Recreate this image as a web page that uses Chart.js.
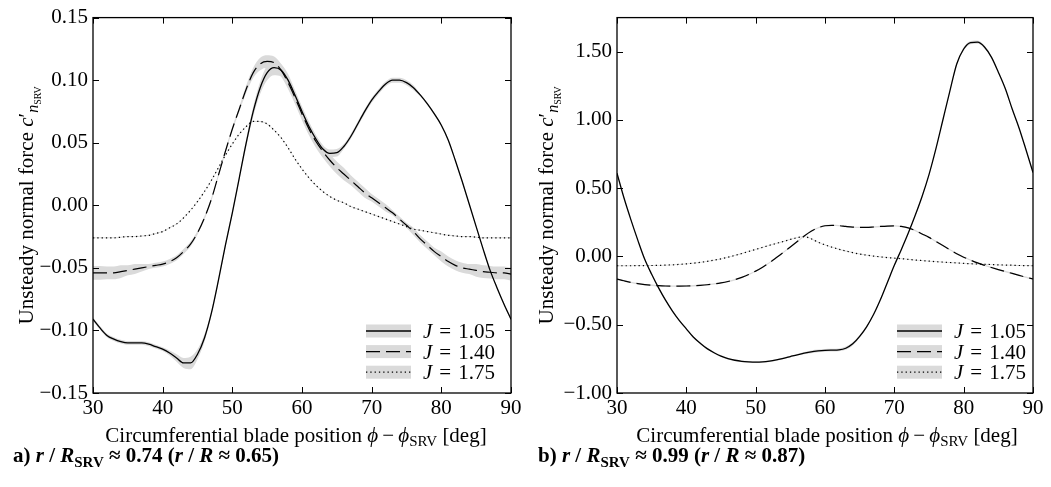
<!DOCTYPE html>
<html><head><meta charset="utf-8">
<script src="https://cdn.jsdelivr.net/npm/chart.js@4/dist/chart.umd.min.js"></script>
<style>
html,body{margin:0;padding:0;background:#fff;overflow:hidden}
#wrap{position:relative;width:1051px;height:487px;background:#fff}
canvas{position:absolute;top:0}
</style></head><body>
<div id="wrap">
<canvas id="cA" width="525" height="487" style="left:0px"></canvas>
<canvas id="cB" width="526" height="487" style="left:525px"></canvas>
</div>
<script>
// ---------- data ----------
const phiDeg = [30,31,32,33,34,35,36,37,38,39,40,41,42,43,44,45,46,47,48,49,50,51,52,53,54,55,56,57,58,59,60,61,62,63,64,65,66,67,68,69,70,71,72,73,74,75,76,77,78,79,80,81,82,83,84,85,86,87,88,89,90];
const xTicks = [30,40,50,60,70,80,90];
const jLabels = ['1.05','1.40','1.75'];

// panel a) r/R_SRV ~ 0.74
const yTicksA = [-0.15,-0.10,-0.05,0.00,0.05,0.10,0.15];
const cnA_105 = [-0.091,-0.098,-0.104,-0.107,-0.109,-0.110,-0.110,-0.110,-0.111,-0.113,-0.115,-0.118,-0.122,-0.126,-0.126,-0.119,-0.106,-0.086,-0.060,-0.032,-0.006,0.022,0.050,0.075,0.094,0.106,0.110,0.108,0.100,0.088,0.075,0.063,0.053,0.045,0.0415,0.042,0.047,0.055,0.065,0.075,0.084,0.091,0.097,0.100,0.100,0.098,0.094,0.088,0.081,0.073,0.064,0.052,0.036,0.019,0.001,-0.017,-0.035,-0.052,-0.066,-0.079,-0.091];
const cnA_140 = [-0.054,-0.054,-0.054,-0.054,-0.053,-0.052,-0.051,-0.050,-0.049,-0.048,-0.047,-0.045,-0.042,-0.037,-0.031,-0.022,-0.010,0.005,0.024,0.043,0.061,0.077,0.093,0.106,0.113,0.115,0.114,0.108,0.098,0.086,0.073,0.061,0.051,0.043,0.036,0.030,0.025,0.020,0.015,0.010,0.006,0.002,-0.002,-0.006,-0.011,-0.016,-0.021,-0.027,-0.032,-0.037,-0.041,-0.045,-0.048,-0.050,-0.051,-0.052,-0.053,-0.0535,-0.054,-0.054,-0.055];
const cnA_175 = [-0.026,-0.026,-0.026,-0.026,-0.0255,-0.025,-0.025,-0.0245,-0.024,-0.0225,-0.021,-0.018,-0.015,-0.010,-0.004,0.003,0.011,0.020,0.030,0.040,0.049,0.057,0.063,0.067,0.067,0.065,0.060,0.054,0.046,0.037,0.029,0.022,0.016,0.011,0.007,0.004,0.002,-0.001,-0.003,-0.005,-0.007,-0.009,-0.011,-0.013,-0.015,-0.017,-0.019,-0.020,-0.021,-0.022,-0.023,-0.024,-0.0245,-0.025,-0.025,-0.0255,-0.026,-0.026,-0.026,-0.026,-0.026];
const bandA_105 = [0.0015,0.0015,0.0015,0.0015,0.0015,0.0015,0.0015,0.0015,0.0015,0.0015,0.0015,0.002,0.003,0.004,0.005,0.004,0.003,0.002,0.002,0.002,0.002,0.002,0.003,0.004,0.005,0.006,0.006,0.005,0.005,0.004,0.004,0.004,0.003,0.003,0.003,0.003,0.002,0.002,0.002,0.002,0.002,0.002,0.002,0.002,0.002,0.002,0.002,0.001,0.001,0.001,0.001,0.001,0.001,0.001,0.001,0.001,0.001,0.001,0.001,0.001,0.001];
const bandA_140 = [0.0055,0.0055,0.005,0.005,0.005,0.004,0.004,0.003,0.002,0.002,0.002,0.002,0.002,0.002,0.002,0.0015,0.0015,0.0015,0.0015,0.0015,0.0015,0.002,0.003,0.004,0.005,0.005,0.005,0.005,0.005,0.005,0.005,0.005,0.005,0.005,0.005,0.005,0.005,0.004,0.004,0.004,0.003,0.003,0.003,0.002,0.002,0.002,0.003,0.003,0.003,0.003,0.004,0.004,0.004,0.004,0.004,0.005,0.005,0.005,0.005,0.005,0.005];
const bandA_175 = [0.0004,0.0004,0.0004,0.0004,0.0004,0.0004,0.0004,0.0004,0.0004,0.0004,0.0004,0.0004,0.0004,0.0004,0.0004,0.0004,0.0004,0.0004,0.0004,0.0004,0.0004,0.0004,0.0004,0.0004,0.0004,0.0004,0.0004,0.0004,0.0004,0.0004,0.0004,0.0004,0.0004,0.0004,0.0004,0.0004,0.0004,0.0004,0.0004,0.0004,0.0004,0.0004,0.0004,0.0004,0.0004,0.0004,0.0004,0.0004,0.0004,0.0004,0.0004,0.0004,0.0004,0.0004,0.0004,0.0004,0.0004,0.0004,0.0004,0.0004,0.0004];

// panel b) r/R_SRV ~ 0.99
const yTicksB = [-1.00,-0.50,0.00,0.50,1.00,1.50];
const cnB_105 = [0.61,0.43,0.27,0.12,-0.02,-0.13,-0.23,-0.32,-0.40,-0.47,-0.53,-0.59,-0.635,-0.675,-0.705,-0.73,-0.748,-0.76,-0.768,-0.772,-0.774,-0.772,-0.766,-0.757,-0.746,-0.733,-0.72,-0.708,-0.698,-0.692,-0.688,-0.686,-0.684,-0.672,-0.64,-0.585,-0.515,-0.425,-0.315,-0.19,-0.065,0.05,0.17,0.30,0.44,0.60,0.79,1.00,1.21,1.41,1.52,1.567,1.57,1.535,1.46,1.35,1.23,1.08,0.94,0.78,0.615];
const cnB_140 = [-0.165,-0.178,-0.19,-0.199,-0.206,-0.211,-0.214,-0.216,-0.217,-0.217,-0.216,-0.214,-0.211,-0.207,-0.201,-0.193,-0.183,-0.17,-0.153,-0.132,-0.107,-0.078,-0.045,-0.008,0.03,0.07,0.11,0.15,0.185,0.21,0.225,0.228,0.226,0.22,0.215,0.213,0.213,0.216,0.22,0.223,0.224,0.22,0.21,0.19,0.165,0.14,0.11,0.08,0.05,0.02,-0.005,-0.027,-0.047,-0.065,-0.081,-0.096,-0.11,-0.124,-0.138,-0.152,-0.165];
const cnB_175 = [-0.068,-0.068,-0.068,-0.067,-0.067,-0.066,-0.065,-0.063,-0.061,-0.058,-0.054,-0.049,-0.043,-0.036,-0.027,-0.017,-0.005,0.008,0.022,0.037,0.052,0.067,0.082,0.096,0.11,0.125,0.138,0.145,0.13,0.105,0.085,0.068,0.053,0.04,0.028,0.018,0.01,0.003,-0.003,-0.008,-0.012,-0.016,-0.021,-0.026,-0.03,-0.034,-0.038,-0.041,-0.044,-0.047,-0.05,-0.053,-0.055,-0.057,-0.059,-0.061,-0.063,-0.064,-0.066,-0.067,-0.068];
const bandB_105 = [0.006,0.006,0.006,0.006,0.006,0.006,0.006,0.006,0.006,0.006,0.006,0.006,0.006,0.006,0.006,0.006,0.006,0.006,0.006,0.006,0.006,0.006,0.006,0.006,0.006,0.006,0.006,0.008,0.01,0.01,0.01,0.01,0.01,0.012,0.012,0.01,0.008,0.006,0.006,0.006,0.006,0.006,0.006,0.006,0.006,0.006,0.006,0.006,0.008,0.01,0.012,0.012,0.012,0.01,0.008,0.006,0.006,0.006,0.006,0.006,0.006];
const bandB_140 = [0.005,0.005,0.005,0.005,0.005,0.005,0.005,0.005,0.005,0.005,0.005,0.005,0.005,0.005,0.005,0.005,0.005,0.005,0.005,0.005,0.005,0.005,0.005,0.005,0.005,0.005,0.005,0.005,0.005,0.005,0.005,0.005,0.005,0.005,0.005,0.005,0.005,0.005,0.005,0.005,0.005,0.005,0.005,0.005,0.005,0.005,0.005,0.005,0.005,0.005,0.005,0.005,0.005,0.005,0.005,0.005,0.005,0.005,0.005,0.005,0.005];
const bandB_175 = [0.003,0.003,0.003,0.003,0.003,0.003,0.003,0.003,0.003,0.003,0.003,0.003,0.003,0.003,0.003,0.003,0.003,0.003,0.003,0.003,0.003,0.003,0.003,0.003,0.003,0.003,0.003,0.003,0.003,0.003,0.003,0.003,0.003,0.003,0.003,0.003,0.003,0.003,0.003,0.003,0.003,0.003,0.003,0.003,0.003,0.003,0.003,0.003,0.003,0.003,0.003,0.003,0.003,0.003,0.003,0.003,0.003,0.003,0.003,0.003,0.003];

// ---------- styling ----------
const SERIF = '"Liberation Serif","Times New Roman",serif';
const F = (s, st) => `${st ? st + ' ' : ''}${s}px ${SERIF}`;
const BAND = 'rgb(218,218,218)';
const FS = 21;
const lineStyles = [
  {dash: [], width: 1.3},
  {dash: [14, 6], width: 1.2},
  {dash: [1.3, 3], width: 1.2}
];
const fmt = v => (Math.abs(v) < 1e-9 ? 0 : v).toFixed(2).replace('-', '\u2212');

function drawRich(ctx, segs, x, y) {
  let cx = x;
  for (const s of segs) {
    ctx.font = s.f;
    ctx.fillText(s.t, cx, y + (s.dy || 0));
    cx += ctx.measureText(s.t).width;
  }
}
function richWidth(ctx, segs) {
  let w = 0;
  for (const s of segs) { ctx.font = s.f; w += ctx.measureText(s.t).width; }
  return w;
}

const xTitleSegs = [
  {t: 'Circumferential blade position ', f: F(FS)},
  {t: '\u03d5', f: F(FS, 'italic')},
  {t: '\u2009\u2212\u2009', f: F(FS)},
  {t: '\u03d5', f: F(FS, 'italic')},
  {t: 'SRV', f: F(15), dy: 4},
  {t: ' [deg]', f: F(FS)}
];
const yTitleSegs = [
  {t: 'Unsteady normal force ', f: F(FS)},
  {t: 'c', f: F(FS, 'italic')},
  {t: '\u2032', f: F(FS)},
  {t: 'n', f: F(16, 'italic'), dy: 5},
  {t: 'SRV', f: F(10), dy: 8}
];
function captionSegs(letter, a, b) {
  return [
    {t: letter + ') ', f: F(FS, 'bold')},
    {t: 'r', f: F(FS, 'italic bold')},
    {t: ' / ', f: F(FS, 'bold')},
    {t: 'R', f: F(FS, 'italic bold')},
    {t: 'SRV', f: F(15, 'bold'), dy: 5},
    {t: ' \u2248 ' + a + ' (', f: F(FS, 'bold')},
    {t: 'r', f: F(FS, 'italic bold')},
    {t: ' / ', f: F(FS, 'bold')},
    {t: 'R', f: F(FS, 'italic bold')},
    {t: ' \u2248 ' + b + ')', f: F(FS, 'bold')}
  ];
}

const decorPlugin = {
  id: 'decor',
  afterDraw(chart) {
    const o = chart.options.plugins.decor;
    const {ctx, chartArea: a} = chart;
    const xs = chart.scales.x, ys = chart.scales.y;
    ctx.save();
    // ticks (inward, all four sides)
    ctx.strokeStyle = '#000';
    ctx.lineWidth = 1;
    ctx.beginPath();
    for (const t of xs.ticks) {
      const px = Math.round(xs.getPixelForValue(t.value)) + 0.5;
      ctx.moveTo(px, a.bottom); ctx.lineTo(px, a.bottom - 6);
      ctx.moveTo(px, a.top); ctx.lineTo(px, a.top + 6);
    }
    for (const t of ys.ticks) {
      const py = Math.round(ys.getPixelForValue(t.value)) + 0.5;
      ctx.moveTo(a.left, py); ctx.lineTo(a.left + 6, py);
      ctx.moveTo(a.right, py); ctx.lineTo(a.right - 6, py);
    }
    ctx.stroke();
    // frame
    ctx.lineWidth = 1.3;
    ctx.strokeRect(a.left, a.top, a.right - a.left, a.bottom - a.top);

    // legend
    ctx.textAlign = 'left';
    ctx.textBaseline = 'alphabetic';
    jLabels.forEach((lab, i) => {
      const yc = o.legY + i * 20.6;
      ctx.fillStyle = BAND;
      ctx.fillRect(o.legX, yc - 6.5, 45, 13);
      ctx.strokeStyle = '#000';
      ctx.lineWidth = lineStyles[i].width;
      ctx.setLineDash(lineStyles[i].dash);
      ctx.beginPath(); ctx.moveTo(o.legX, yc); ctx.lineTo(o.legX + 45, yc); ctx.stroke();
      ctx.setLineDash([]);
      ctx.fillStyle = '#000';
      drawRich(ctx, [{t: 'J', f: F(FS, 'italic')}, {t: '\u2004=\u2004' + lab, f: F(FS)}], o.legX + 57, yc + 7);
    });

    // x title
    const cx = (a.left + a.right) / 2 + o.xTitleShift;
    const wx = richWidth(ctx, xTitleSegs);
    drawRich(ctx, xTitleSegs, cx - wx / 2, 442);
    // y title (rotated)
    const wy = richWidth(ctx, yTitleSegs);
    ctx.save();
    ctx.translate(o.yTitleX, (a.top + a.bottom) / 2);
    ctx.rotate(-Math.PI / 2);
    drawRich(ctx, yTitleSegs, -wy / 2, 0);
    ctx.restore();
    // caption
    drawRich(ctx, o.caption, 13, 462);
    ctx.restore();
  }
};

function makeChart(id, series, bands, yTicks, yMin, yMax, yWidth, rightPad, decor) {
  const datasets = [];
  series.forEach((vals, i) => {
    datasets.push({
      label: 'J = ' + jLabels[i],
      data: phiDeg.map((x, k) => ({x, y: vals[k]})),
      borderColor: '#000', borderWidth: lineStyles[i].width, borderDash: lineStyles[i].dash,
      pointRadius: 0, fill: false, cubicInterpolationMode: 'monotone', order: 0
    });
  });
  series.forEach((vals, i) => {
    const up = datasets.length;
    datasets.push({
      label: 'band+' + i,
      data: phiDeg.map((x, k) => ({x, y: vals[k] + bands[i][k]})),
      borderWidth: 0, borderColor: 'rgba(0,0,0,0)', pointRadius: 0, fill: false,
      cubicInterpolationMode: 'monotone', order: 1
    });
    datasets.push({
      label: 'band-' + i,
      data: phiDeg.map((x, k) => ({x, y: vals[k] - bands[i][k]})),
      borderWidth: 0, borderColor: 'rgba(0,0,0,0)', pointRadius: 0,
      fill: {target: up}, backgroundColor: BAND,
      cubicInterpolationMode: 'monotone', order: 1
    });
  });
  return new Chart(document.getElementById(id), {
    type: 'line',
    data: {datasets},
    options: {
      responsive: false, animation: false, devicePixelRatio: 1,
      layout: {padding: {left: 0, top: 15, right: rightPad, bottom: 0}},
      plugins: {legend: {display: false}, tooltip: {enabled: false}, decor},
      scales: {
        x: {
          type: 'linear', min: 30, max: 90,
          grid: {display: false, drawTicks: false}, border: {display: false},
          afterBuildTicks: s => { s.ticks = xTicks.map(v => ({value: v})); },
          afterFit: s => { s.height = 94; },
          ticks: {color: '#000', font: {family: SERIF, size: FS}, padding: 3, maxRotation: 0,
                  callback: v => String(v)}
        },
        y: {
          type: 'linear', min: yMin, max: yMax,
          grid: {display: false, drawTicks: false}, border: {display: false},
          afterBuildTicks: s => { s.ticks = yTicks.map(v => ({value: v})); },
          afterFit: s => { s.width = yWidth; },
          ticks: {color: '#000', font: {family: SERIF, size: FS}, padding: 5,
                  callback: v => fmt(v)}
        }
      }
    },
    plugins: [decorPlugin]
  });
}

makeChart('cA', [cnA_105, cnA_140, cnA_175], [bandA_105, bandA_140, bandA_175],
  yTicksA, -0.15, 0.15, 93, 14,
  {legX: 366, legY: 331, yTitleX: 33, xTitleShift: -6, caption: captionSegs('a', '0.74', '0.65')});
makeChart('cB', [cnB_105, cnB_140, cnB_175], [bandB_105, bandB_140, bandB_175],
  yTicksB, -1.0, 1.75, 92, 18,
  {legX: 372, legY: 331, yTitleX: 28, xTitleShift: 2, caption: captionSegs('b', '0.99', '0.87')});
</script>
</body></html>
